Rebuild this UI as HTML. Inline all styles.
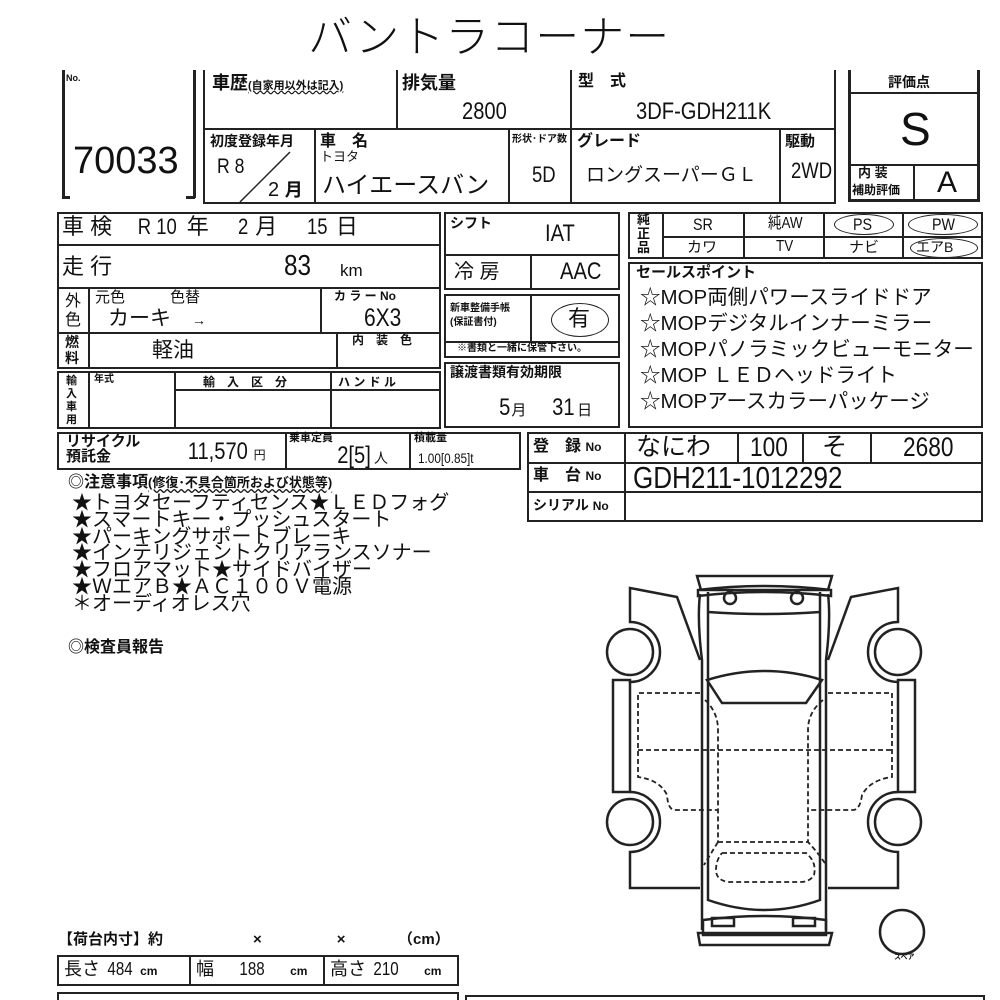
<!DOCTYPE html>
<html><head><meta charset="utf-8"><style>
body{margin:0;background:#fff}
#p{position:relative;width:1000px;height:1000px;overflow:hidden;font-family:"Liberation Sans","Noto Sans CJK JP",sans-serif;color:#111}
.b{position:absolute;border:2px solid #222;box-sizing:border-box}
.h{position:absolute;height:0;border-top:2px solid #222}
.v{position:absolute;width:0;border-left:2px solid #222}
.t{position:absolute;white-space:nowrap;line-height:1}
.n{display:inline-block;transform:scaleX(.84);transform-origin:0 0}
span.n{transform-origin:50% 50%}
.s{font-size:13px;font-weight:bold}
</style></head><body><div id="p">
<div class="t" style="left:308px;top:16px;font-size:44px;font-weight:300;letter-spacing:1px">バントラコーナー</div>

<div class="v" style="left:62px;top:70px;height:128px;border-left-width:3px"></div>
<div class="h" style="left:62px;top:196px;width:8px;border-top-width:3px"></div>
<div class="v" style="left:193px;top:70px;height:128px;border-left-width:3px"></div>
<div class="h" style="left:186px;top:196px;width:9px;border-top-width:3px"></div>
<div class="t" style="left:66px;top:74px;font-size:9px;font-weight:bold">No.</div>
<div class="t" style="left:73px;top:142px;font-size:38px">70033</div>

<div class="v" style="left:203px;top:70px;height:134px"></div>
<div class="v" style="left:396px;top:70px;height:58px"></div>
<div class="v" style="left:570px;top:70px;height:134px"></div>
<div class="v" style="left:834px;top:70px;height:134px"></div>
<div class="h" style="left:203px;top:128px;width:633px"></div>
<div class="h" style="left:203px;top:202px;width:633px"></div>
<div class="v" style="left:314px;top:128px;height:75px"></div>
<div class="v" style="left:508px;top:128px;height:75px"></div>
<div class="v" style="left:779px;top:128px;height:75px"></div>
<div class="t s" style="left:212px;top:74px;font-size:18px">車歴<span style="font-size:11px;text-decoration:underline wavy">(自家用以外は記入)</span></div>
<div class="t s" style="left:402px;top:74px;font-size:18px">排気量</div>
<div class="t n" style="left:462px;top:100px;font-size:24px">2800</div>
<div class="t s" style="left:578px;top:74px;font-size:16px">型　式</div>
<div class="t n" style="left:636px;top:100px;font-size:24px">3DF-GDH211K</div>
<div class="t s" style="left:210px;top:134px;font-size:14px">初度登録年月</div>
<div class="t n" style="left:217px;top:156px;font-size:21px">R 8</div>
<svg style="position:absolute;left:230px;top:150px" width="70" height="55"><line x1="10" y1="52" x2="60" y2="2" stroke="#222" stroke-width="1.5"/></svg>
<div class="t" style="left:268px;top:180px;font-size:20px">2 <b style="font-size:18px">月</b></div>
<div class="t s" style="left:320px;top:134px;font-size:16px">車　名</div>
<div class="t" style="left:320px;top:150px;font-size:13px">トヨタ</div>
<div class="t" style="left:322px;top:174px;font-size:24px">ハイエースバン</div>
<div class="t s" style="left:512px;top:135px;font-size:10px">形状･ドア数</div>
<div class="t n" style="left:532px;top:164px;font-size:22px">5D</div>
<div class="t s" style="left:577px;top:134px;font-size:16px">グレード</div>
<div class="t" style="left:586px;top:166px;font-size:19px">ロングスーパーＧＬ</div>
<div class="t s" style="left:785px;top:134px;font-size:15px">駆動</div>
<div class="t n" style="left:791px;top:160px;font-size:22px">2WD</div>

<div class="b" style="left:848px;top:70px;width:132px;height:132px;border-width:3px;border-top:none"></div>
<div class="h" style="left:848px;top:92px;width:132px"></div>
<div class="h" style="left:848px;top:164px;width:132px"></div>
<div class="v" style="left:913px;top:164px;height:37px"></div>
<div class="t s" style="left:888px;top:75px;font-size:14px">評価点</div>
<div class="t" style="left:900px;top:106px;font-size:46px;font-weight:300">S</div>
<div class="t s" style="left:858px;top:166px;font-size:13px">内 装</div>
<div class="t s" style="left:852px;top:184px;font-size:12px">補助評価</div>
<div class="t" style="left:937px;top:168px;font-size:30px">A</div>

<div class="b" style="left:57px;top:212px;width:384px;height:34px"></div>
<div class="t" style="left:62px;top:216px;font-size:22px">車 検　<span class="n">R 10</span> 年　 <span class="n">2</span> 月　 <span class="n">15</span> 日</div>
<div class="b" style="left:57px;top:244px;width:384px;height:45px"></div>
<div class="t" style="left:62px;top:256px;font-size:22px">走 行</div>
<div class="t n" style="left:284px;top:252px;font-size:29px">83</div>
<div class="t" style="left:340px;top:262px;font-size:17px">km</div>
<div class="b" style="left:57px;top:287px;width:384px;height:47px"></div>
<div class="v" style="left:88px;top:287px;height:82px"></div>
<div class="v" style="left:320px;top:287px;height:47px"></div>
<div class="t" style="left:65px;top:292px;font-size:16px;line-height:19px">外<br>色</div>
<div class="t" style="left:95px;top:290px;font-size:15px">元色　　　色替</div>
<div class="t" style="left:108px;top:308px;font-size:21px">カーキ　<span style="font-size:14px">→</span></div>
<div class="t s" style="left:334px;top:290px;font-size:12px">カ ラ ー No</div>
<div class="t n" style="left:364px;top:306px;font-size:25px">6X3</div>
<div class="b" style="left:57px;top:332px;width:384px;height:37px"></div>
<div class="v" style="left:336px;top:332px;height:37px"></div>
<div class="t s" style="left:65px;top:334px;font-size:14px;line-height:16px">燃<br>料</div>
<div class="t" style="left:152px;top:340px;font-size:21px">軽油</div>
<div class="t s" style="left:352px;top:334px;font-size:12px">内　装　色</div>
<div class="b" style="left:57px;top:371px;width:384px;height:58px"></div>
<div class="v" style="left:88px;top:371px;height:58px"></div>
<div class="v" style="left:174px;top:371px;height:58px"></div>
<div class="v" style="left:330px;top:371px;height:58px"></div>
<div class="h" style="left:174px;top:389px;width:266px"></div>
<div class="t s" style="left:66px;top:375px;font-size:11px;line-height:13px">輸<br>入<br>車<br>用</div>
<div class="t s" style="left:94px;top:375px;font-size:10px">年式</div>
<div class="t s" style="left:203px;top:376px;font-size:12px">輸　入　区　分</div>
<div class="t s" style="left:338px;top:376px;font-size:12px">ハ ン ド ル</div>

<div class="b" style="left:444px;top:212px;width:176px;height:78px"></div>
<div class="h" style="left:444px;top:254px;width:176px"></div>
<div class="v" style="left:530px;top:254px;height:36px"></div>
<div class="t s" style="left:450px;top:216px;font-size:14px">シフト</div>
<div class="t n" style="left:545px;top:222px;font-size:24px">IAT</div>
<div class="t" style="left:454px;top:262px;font-size:20px">冷 房</div>
<div class="t n" style="left:560px;top:260px;font-size:24px">AAC</div>
<div class="b" style="left:444px;top:294px;width:176px;height:64px"></div>
<div class="v" style="left:530px;top:294px;height:48px"></div>
<div class="h" style="left:444px;top:341px;width:176px"></div>
<div class="t s" style="left:450px;top:302px;font-size:10px;line-height:14px">新車整備手帳<br>(保証書付)</div>
<div class="b" style="left:551px;top:303px;width:58px;height:34px;border-radius:50%;border-width:1.5px"></div>
<div class="t" style="left:568px;top:308px;font-size:22px">有</div>
<div class="t s" style="left:457px;top:344px;font-size:10px">※書類と一緒に保管下さい。</div>
<div class="b" style="left:444px;top:362px;width:176px;height:66px"></div>
<div class="t s" style="left:450px;top:365px;font-size:14px">譲渡書類有効期限</div>
<div class="t" style="left:498px;top:396px;font-size:24px"><span class="n">5</span><span style="font-size:15px">月</span>　<span class="n">31</span><span style="font-size:15px">日</span></div>

<div class="b" style="left:628px;top:212px;width:355px;height:47px"></div>
<div class="h" style="left:662px;top:236px;width:320px"></div>
<div class="v" style="left:662px;top:212px;height:46px"></div>
<div class="v" style="left:743px;top:212px;height:46px"></div>
<div class="v" style="left:823px;top:212px;height:46px"></div>
<div class="v" style="left:902px;top:212px;height:46px"></div>
<div class="t s" style="left:637px;top:213px;font-size:13px;line-height:14px">純<br>正<br>品</div>
<div class="t n" style="left:693px;top:216px;font-size:17px">SR</div>
<div class="t n" style="left:768px;top:216px;font-size:16px">純AW</div>
<div class="t n" style="left:853px;top:216px;font-size:17px">PS</div>
<div class="b" style="left:834px;top:214px;width:60px;height:21px;border-radius:50%;border-width:1.5px"></div>
<div class="t n" style="left:932px;top:216px;font-size:17px">PW</div>
<div class="b" style="left:908px;top:214px;width:70px;height:21px;border-radius:50%;border-width:1.5px"></div>
<div class="t" style="left:687px;top:240px;font-size:15px">カワ</div>
<div class="t n" style="left:776px;top:239px;font-size:16px">TV</div>
<div class="t" style="left:849px;top:240px;font-size:15px">ナビ</div>
<div class="t" style="left:916px;top:240px;font-size:14px">エアB</div>
<div class="b" style="left:910px;top:238px;width:68px;height:20px;border-radius:50%;border-width:1.5px"></div>
<div class="b" style="left:628px;top:262px;width:355px;height:166px"></div>
<div class="t" style="left:636px;top:265px;font-size:15px;font-weight:bold">セールスポイント</div>
<div class="t" style="left:640px;top:285px;font-size:20.5px;line-height:26px">☆MOP両側パワースライドドア<br>☆MOPデジタルインナーミラー<br>☆MOPパノラミックビューモニター<br>☆MOP ＬＥＤヘッドライト<br>☆MOPアースカラーパッケージ</div>

<div class="b" style="left:57px;top:432px;width:464px;height:38px"></div>
<div class="v" style="left:285px;top:432px;height:38px"></div>
<div class="v" style="left:409px;top:432px;height:38px"></div>
<div class="t s" style="left:66px;top:434px;font-size:15px;line-height:15px">リサイクル<br>預託金</div>
<div class="t" style="left:182px;top:440px;font-size:24px"><span class="n">11,570</span><span style="font-size:12px">円</span></div>
<div class="t s" style="left:289px;top:433px;font-size:11px">乗車定員</div>
<div class="t" style="left:334px;top:444px;font-size:24px"><span class="n">2[5]</span><span style="font-size:14px">人</span></div>
<div class="t s" style="left:414px;top:433px;font-size:11px">積載量</div>
<div class="t n" style="left:418px;top:451px;font-size:14px">1.00[0.85]t</div>

<div class="b" style="left:527px;top:432px;width:456px;height:90px"></div>
<div class="h" style="left:527px;top:462px;width:456px"></div>
<div class="h" style="left:527px;top:491px;width:456px"></div>
<div class="v" style="left:624px;top:432px;height:90px"></div>
<div class="v" style="left:737px;top:432px;height:30px"></div>
<div class="v" style="left:802px;top:432px;height:30px"></div>
<div class="v" style="left:870px;top:432px;height:30px"></div>
<div class="t s" style="left:533px;top:439px;font-size:16px">登　録 <span style="font-size:12px">No</span></div>
<div class="t s" style="left:533px;top:468px;font-size:16px">車　台 <span style="font-size:12px">No</span></div>
<div class="t s" style="left:533px;top:498px;font-size:14px">シリアル <span style="font-size:12px">No</span></div>
<div class="t" style="left:636px;top:435px;font-size:25px">なにわ</div>
<div class="t n" style="left:750px;top:434px;font-size:27px">100</div>
<div class="t" style="left:822px;top:435px;font-size:25px">そ</div>
<div class="t n" style="left:903px;top:434px;font-size:27px">2680</div>
<div class="t n" style="left:633px;top:462px;font-size:31px">GDH211-1012292</div>

<div class="t s" style="left:68px;top:475px;font-size:16px">◎注意事項<span style="font-size:13px;text-decoration:underline wavy">(修復･不具合箇所および状態等)</span></div>
<div class="t" style="left:72px;top:495px;font-size:20px;line-height:16.8px">★トヨタセーフティセンス★ＬＥＤフォグ<br>★スマートキー・プッシュスタート<br>★パーキングサポートブレーキ<br>★インテリジェントクリアランスソナー<br>★フロアマット★サイドバイザー<br>★ＷエアＢ★ＡＣ１００Ｖ電源<br>＊オーディオレス穴</div>
<div class="t s" style="left:68px;top:640px;font-size:16px">◎検査員報告</div>

<div class="t s" style="left:58px;top:932px;font-size:15px">【荷台内寸】約　　　　　　×　　　　　×　　　　（cm）</div>
<div class="b" style="left:57px;top:955px;width:402px;height:31px"></div>
<div class="v" style="left:189px;top:955px;height:31px"></div>
<div class="v" style="left:323px;top:955px;height:31px"></div>
<div class="t" style="left:64px;top:960px;font-size:18px">長さ <span class="n">484</span> <b style="font-size:12px">cm</b></div>
<div class="t" style="left:196px;top:960px;font-size:18px">幅 　<span class="n">188</span> 　<b style="font-size:12px">cm</b></div>
<div class="t" style="left:330px;top:960px;font-size:18px">高さ <span class="n">210</span> 　<b style="font-size:12px">cm</b></div>
<div class="b" style="left:57px;top:992px;width:402px;height:20px"></div>
<div class="b" style="left:465px;top:995px;width:520px;height:20px"></div>

<svg style="position:absolute;left:0;top:0" width="1000" height="1000" fill="none" stroke="#222" stroke-width="2.5">
<path d="M697,576 L832,576 L828,590 L701,590 Z"/>
<path d="M698,590 Q765,582 831,590 L831,596 Q765,588 698,596 Z"/>
<circle cx="730" cy="598" r="6"/><circle cx="797" cy="598" r="6"/>
<path d="M708,592 L708,900 Q765,920 820,900 L820,592"/>
<path d="M700,594 Q697,620 702,660 L702,930 M828,594 Q831,620 826,660 L826,930"/>
<path d="M708,612 Q765,616 820,612"/>
<path d="M707,680 Q765,662 822,680 L806,703 L722,703 Z"/>
<path d="M703,920 Q765,912 826,920 L826,935 L703,935 Z"/>
<rect x="712" y="918" width="22" height="8"/><rect x="793" y="918" width="22" height="8"/>
<path d="M698,933 L832,933 L829,945 L700,945 Z"/>
<path d="M700,660 L677,597 L630,588 L630,622 A30,30 0 0 1 630,682 L630,683"/>
<circle cx="630" cy="652" r="23"/>
<path d="M613,680 L630,680 L630,792 L613,792 Z"/>
<path d="M630,792 A30,30 0 0 1 630,852 L630,888 L700,888"/>
<circle cx="630" cy="822" r="23"/>
<path d="M828,660 L851,597 L898,588 L898,622 A30,30 0 0 0 898,682"/>
<circle cx="898" cy="652" r="23"/>
<path d="M898,680 L915,680 L915,792 L898,792 Z"/>
<path d="M898,792 A30,30 0 0 0 898,852 L898,888 L828,888"/>
<circle cx="898" cy="822" r="23"/>
<circle cx="902" cy="932" r="22"/>
<g stroke-width="1.8" stroke-dasharray="5,3">
<path d="M700,693 L638,693 L638,777 Q660,780 667,795 Q668,810 675,810 L718,810"/>
<path d="M828,693 L892,693 L892,777 Q870,780 862,795 Q860,810 853,810 L808,810"/>
<path d="M638,750 L892,750"/>
<path d="M705,700 Q718,712 718,730 L718,842 M823,700 Q808,712 808,730 L808,842"/>
<path d="M718,842 L808,842 Q820,855 826,865 M718,842 Q710,855 704,865"/>
<path d="M722,853 L806,853 Q817,862 814,875 Q810,882 800,882 L728,882 Q716,880 716,870 Q716,860 722,853"/>
</g>
</svg>
<div class="t s" style="left:894px;top:954px;font-size:7px">スペア</div>
</div></body></html>
